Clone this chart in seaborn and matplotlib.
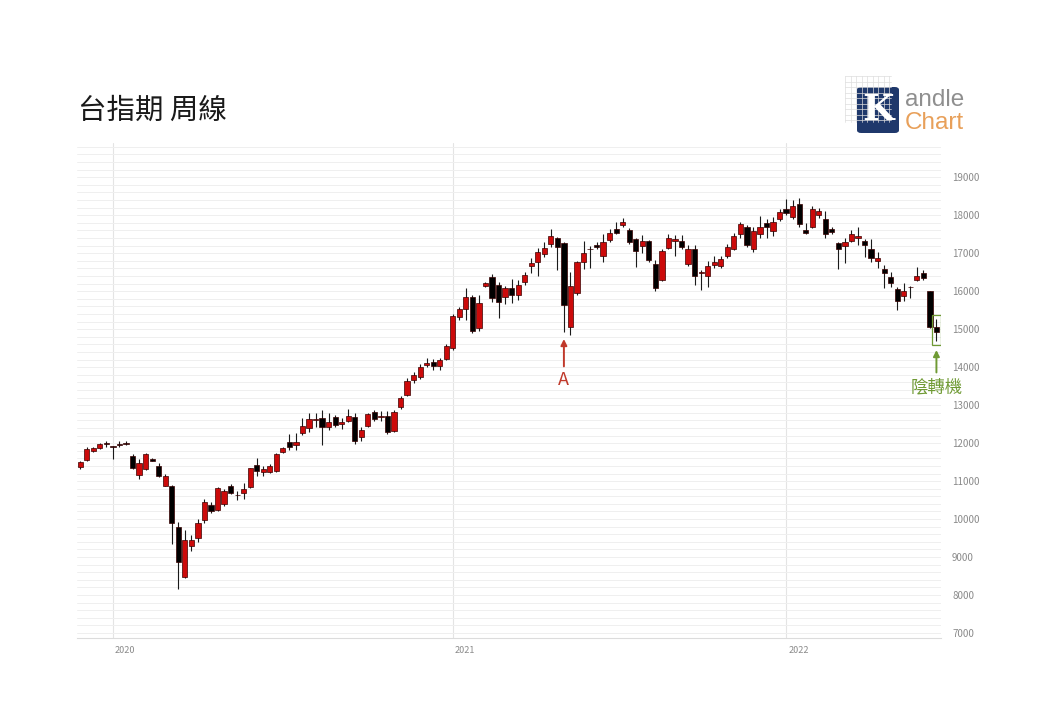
import numpy as np
import pandas as pd
import matplotlib
matplotlib.use("Agg")
import matplotlib.pyplot as plt
import matplotlib.transforms as mtrans
import seaborn as sns
from matplotlib.patches import Rectangle, FancyBboxPatch
from matplotlib.ticker import MultipleLocator

sns.set_theme(style="white")
plt.rcParams["font.family"] = ["Noto Sans CJK TC", "DejaVu Sans"]

# ---------------- data (weekly OHLC) ----------------
opens = [11376, 11545, 11800, 11868, 11985, 11910, 11975, 11995, 11658, 11150,
         11316, 11580, 11395, 10876, 10868, 9797, 8482, 9290, 9500, 9974,
         10370, 10237, 10390, 10868, 10640, 10676, 10850, 11421, 11240, 11245,
         11263, 11771, 12018, 11939, 12272, 12403, 12600, 12650, 12429, 12676,
         12492, 12579, 12693, 12150, 12455, 12808, 12680, 12719, 12316, 12955,
         13270, 13658, 13745, 14053, 14140, 14026, 14203, 14492, 15308, 15518,
         15834, 15018, 16132, 16377, 16158, 15834, 16070, 15895, 16245, 16658,
         16771, 16974, 17237, 17387, 17271, 15045, 15955, 16755, 17100, 17211,
         16930, 17342, 17632, 17737, 17605, 17360, 17192, 17316, 16703, 16290,
         17140, 17330, 17324, 16710, 17122, 16480, 16395, 16684, 16658, 16921,
         17122, 17500, 17676, 17122, 17500, 17798, 17587, 17887, 18158, 17955,
         18290, 17605, 17692, 18000, 17887, 17624, 17255, 17192, 17324, 17410,
         17324, 17097, 16800, 16571, 16360, 16045, 15876, 16120, 16290, 16466,
         16000, 15061]
highs = [11526, 11887, 11900, 11995, 12060, 11925, 12060, 12045, 11703, 11571,
         11729, 11600, 11466, 11200, 10895, 9929, 9710, 9580, 10000, 10526,
         10450, 10834, 10790, 10921, 10740, 10955, 11340, 11597, 11400, 11450,
         11745, 11900, 12237, 12263, 12650, 12798, 12790, 12868, 12798, 12740,
         12660, 12895, 12780, 12430, 12800, 12870, 12850, 12850, 12870, 13250,
         13720, 13870, 14080, 14250, 14203, 14230, 14600, 15400, 15580, 16070,
         15900, 15900, 16250, 16447, 16250, 16130, 16330, 16290, 16500, 16860,
         17130, 17300, 17640, 17430, 17290, 16500, 16800, 17324, 17180, 17290,
         17500, 17640, 17825, 17930, 17650, 17395, 17474, 17350, 16820, 17110,
         17500, 17474, 17474, 17210, 17210, 16560, 16790, 16920, 16920, 17250,
         17520, 17830, 17730, 17700, 17987, 17900, 17950, 18150, 18413, 18400,
         18450, 17800, 18250, 18200, 18100, 17700, 17300, 17400, 17620, 17680,
         17380, 17360, 17030, 16684, 16500, 16113, 16220, 16140, 16640, 16560,
         16010, 15255]
lows = [11324, 11534, 11760, 11850, 11890, 11580, 11890, 11940, 11308, 11045,
        11290, 11520, 11113, 10870, 9342, 8149, 8450, 9150, 9400, 9900,
        10150, 10200, 10340, 10660, 10500, 10534, 10820, 11131, 11130, 11220,
        11240, 11750, 11816, 11816, 12220, 12298, 12420, 11947, 12350, 12430,
        12380, 12560, 11980, 12053, 12430, 12580, 12580, 12240, 12290, 12900,
        13230, 13580, 13700, 14000, 13921, 13920, 14180, 14460, 15230, 15237,
        14900, 14950, 16100, 15718, 15300, 15650, 15700, 15760, 16160, 16470,
        16400, 16900, 17150, 16553, 14929, 14850, 15900, 16580, 16620, 17120,
        16760, 17290, 17500, 17690, 17230, 16640, 17000, 16780, 16000, 16270,
        17100, 16920, 17100, 16660, 16150, 16030, 16100, 16600, 16620, 16880,
        17080, 17400, 17150, 17040, 17400, 17400, 17460, 17850, 18000, 17900,
        17700, 17500, 17650, 17930, 17400, 17500, 16580, 16740, 17300, 17210,
        16900, 16760, 16600, 16071, 16100, 15500, 15750, 15810, 16270, 16290,
        15030, 14700]
closes = [11492, 11842, 11868, 11974, 11970, 11900, 11950, 11975, 11334, 11482,
          11703, 11540, 11139, 11131, 9887, 8876, 9447, 9450, 9900, 10440,
          10200, 10808, 10745, 10692, 10625, 10789, 11334, 11271, 11308, 11395,
          11711, 11860, 11903, 12018, 12455, 12632, 12610, 12413, 12561, 12474,
          12545, 12711, 12053, 12342, 12755, 12624, 12710, 12282, 12824, 13176,
          13640, 13781, 14008, 14114, 14026, 14184, 14553, 15342, 15518, 15850,
          14947, 15676, 16203, 15808, 15718, 16070, 15895, 16158, 16421, 16729,
          17034, 17140, 17447, 17166, 15632, 16132, 16755, 16992, 17120, 17150,
          17298, 17534, 17534, 17808, 17297, 17061, 17316, 16816, 16071, 17061,
          17403, 17365, 17166, 17122, 16395, 16510, 16658, 16771, 16834, 17150,
          17447, 17763, 17211, 17587, 17692, 17692, 17825, 18071, 18045, 18237,
          17763, 17530, 18158, 18105, 17500, 17560, 17097, 17300, 17492, 17450,
          17211, 16860, 16877, 16466, 16218, 15745, 16008, 16100, 16403, 16334,
          15061, 14929]

# weekly bars (Mondays); the Lunar New Year weeks without a bar are dropped
week_dates = pd.date_range("2019-12-02", "2022-06-20", freq="W-MON")
week_dates = week_dates[~week_dates.isin(pd.to_datetime(["2021-02-08", "2022-01-31"]))]

y_ticks = list(range(7000, 20000, 1000))
title_text = "台指期 周線"
note_a = "A"
note_b = "陰轉機"

df = pd.DataFrame({"date": week_dates, "open": opens, "high": highs,
                   "low": lows, "close": closes})
df["x"] = np.arange(len(df))
df["up"] = df["close"] > df["open"]

# ---------------- figure ----------------
W, H = 1040, 720
fig = plt.figure(figsize=(W / 100, H / 100), dpi=100)
fig.patch.set_facecolor("white")
ax = fig.add_axes([77 / W, 1 - 638 / H, (941 - 77) / W, (638 - 143) / H])
ax.set_facecolor("white")

RED = "#cc0a0a"
BLACK = "#000000"

ax.vlines(df["x"], df["low"], df["high"], color="#1a1a1a", lw=0.8, zorder=3)
body_bottom = df[["open", "close"]].min(axis=1)
body_h = (df["close"] - df["open"]).abs().clip(lower=22)
face = np.where(df["up"], RED, BLACK)
ax.bar(df["x"], body_h, bottom=body_bottom, width=0.8, color=face,
       edgecolor="#3a0000", linewidth=0.5, zorder=4)

# axes limits / ticks
ax.set_xlim(-0.5, 131.7)
ax.set_ylim(6870, 19900)

year_first = df.groupby(df["date"].dt.year)["x"].min()
year_first = year_first[year_first.index >= 2020]
ax.set_xticks(year_first.values)
ax.set_xticklabels([str(y) for y in year_first.index], ha="left")
ax.tick_params(axis="x", length=0, pad=6, labelsize=6.5, colors="#8a8a8a")
offset = mtrans.ScaledTranslation(2 / 100, 0, fig.dpi_scale_trans)
for lab in ax.get_xticklabels():
    lab.set_transform(lab.get_transform() + offset)

ax.yaxis.tick_right()
ax.set_yticks(y_ticks)
ax.yaxis.set_minor_locator(MultipleLocator(200))
ax.tick_params(axis="y", which="both", length=0, pad=8, labelsize=7,
               colors="#8a8a8a")
for lab in ax.get_yticklabels():
    lab.set_horizontalalignment("left")

ax.grid(axis="y", which="both", color="#efefef", lw=0.7, zorder=0)
ax.grid(axis="x", which="major", color="#e4e4e4", lw=0.8, zorder=0)
ax.set_axisbelow(True)
for s in ["top", "left", "right"]:
    ax.spines[s].set_visible(False)
ax.spines["bottom"].set_color("#dcdcdc")
ax.spines["bottom"].set_linewidth(0.8)

# ---------------- annotations ----------------
ia = 74
ax.annotate("", xy=(ia, 14740), xytext=(ia, 14020),
            arrowprops=dict(arrowstyle="-|>", color="#c0392b", lw=1.4,
                            mutation_scale=9, shrinkA=0, shrinkB=0), zorder=6)
ax.text(ia, 13660, note_a, color="#c0392b", fontsize=13, ha="center",
        va="center", zorder=6)

ib = len(df) - 1
ax.add_patch(Rectangle((ib - 0.7, 14580), 1.4, 790, fill=False,
                       edgecolor="#6f9a34", lw=0.9, zorder=6))
ax.annotate("", xy=(ib, 14450), xytext=(ib, 13860),
            arrowprops=dict(arrowstyle="-|>", color="#6f9a34", lw=1.4,
                            mutation_scale=9, shrinkA=0, shrinkB=0), zorder=6)
ax.text(ib, 13450, note_b, color="#6f9a34", fontsize=12.5, ha="center",
        va="center", zorder=6)

# ---------------- title ----------------
fig.text(78 / W, 1 - 111 / H, title_text, fontsize=20.5, color="#1a1a1a",
         ha="left", va="center")

# ---------------- logo ----------------
for gx in np.arange(845, 892, 5.5):
    fig.add_artist(plt.Line2D([gx / W, gx / W], [1 - 122 / H, 1 - 76 / H],
                              color="#dddddd", lw=0.5, transform=fig.transFigure))
for gy in np.arange(76, 123, 5.5):
    fig.add_artist(plt.Line2D([845 / W, 891 / W], [1 - gy / H, 1 - gy / H],
                              color="#dddddd", lw=0.5, transform=fig.transFigure))
fig.add_artist(FancyBboxPatch((857 / W, 1 - 133 / H), 42 / W, 46 / H,
                              boxstyle="round,pad=0,rounding_size=0.004",
                              transform=fig.transFigure, facecolor="#1f386b",
                              edgecolor="none"))
fig.text(878 / W, 1 - 110 / H, "K", fontsize=26, color="white", ha="center",
         va="center", family="DejaVu Serif", fontweight="bold")
fig.text(905 / W, 1 - 100 / H, "andle", fontsize=17.5, color="#8f8f8f",
         ha="left", va="center", family="Liberation Sans")
fig.text(905 / W, 1 - 123 / H, "Chart", fontsize=17.5, color="#e8a05a",
         ha="left", va="center", family="Liberation Sans")

fig.savefig("out.png", dpi=100)
